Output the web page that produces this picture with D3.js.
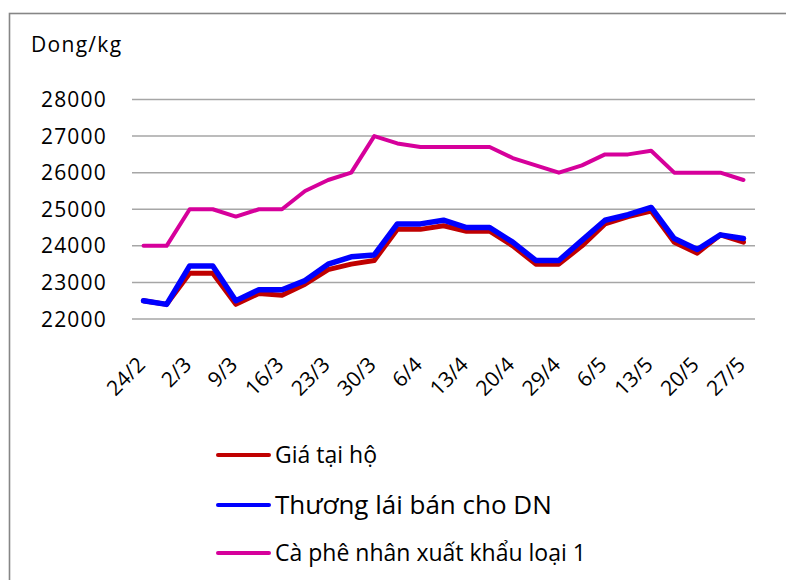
<!DOCTYPE html>
<html>
<head>
<meta charset="utf-8">
<script src="https://cdn.jsdelivr.net/npm/d3@7/dist/d3.min.js"></script>
<style>
  html, body { margin: 0; padding: 0; background: #fff; }
  svg { display: block; }
  text { font-family: "Open Sans", "Noto Sans", sans-serif; fill: #000; }
</style>
</head>
<body>
<svg id="chart" width="786" height="580"></svg>
<script>
const categories = ["24/2","28/2","2/3","6/3","9/3","13/3","16/3","20/3","23/3","27/3","30/3","3/4","6/4","10/4","13/4","17/4","20/4","24/4","29/4","3/5","6/5","10/5","13/5","17/5","20/5","24/5","27/5"];
const tickLabels = ["24/2","2/3","9/3","16/3","23/3","30/3","6/4","13/4","20/4","29/4","6/5","13/5","20/5","27/5"];
const giaTaiHo = [22500,22400,23250,23250,22400,22700,22650,22950,23350,23500,23600,24450,24450,24550,24400,24400,24000,23500,23500,24000,24600,24800,24950,24100,23800,24300,24100];
const thuongLai = [22500,22400,23450,23450,22500,22800,22800,23050,23500,23700,23750,24600,24600,24700,24500,24500,24100,23600,23600,24150,24700,24850,25050,24200,23900,24300,24200];
const xuatKhau = [24000,24000,25000,25000,24800,25000,25000,25500,25800,26000,27000,26800,26700,26700,26700,26700,26400,26200,26000,26200,26500,26500,26600,26000,26000,26000,25800];
const yTicks = [22000,23000,24000,25000,26000,27000,28000];
const seriesNames = ["Giá tại hộ","Thương lái bán cho DN","Cà phê nhân xuất khẩu loại 1"];
const seriesColors = ["#c00000","#0000ff","#d6009b"];

const svg = d3.select("#chart");

// outer frame
svg.append("rect").attr("x", 9.5).attr("y", 13.5).attr("width", 900).attr("height", 700)
  .attr("fill", "none").attr("stroke", "#868686").attr("stroke-width", 1.6);

const x = d3.scaleBand().domain(categories).range([132, 755]).padding(0);
const y = d3.scaleLinear().domain([22000, 28000]).range([319, 99.5]);
const cx = c => x(c) + x.bandwidth() / 2;

// gridlines
svg.append("g").selectAll("line").data(yTicks).join("line")
  .attr("x1", 132).attr("x2", 755)
  .attr("y1", d => y(d)).attr("y2", d => y(d))
  .attr("stroke", "#a6a6a6").attr("stroke-width", 1.5);

// y labels
svg.append("g").selectAll("text").data(yTicks).join("text")
  .attr("x", 107).attr("y", d => y(d)).attr("dy", "0.36em")
  .attr("text-anchor", "end").style("font-size", "21px").style("letter-spacing", "1.2px")
  .text(d => d);

svg.append("text").attr("x", 31).attr("y", 52).style("font-size", "21px").style("letter-spacing", "1.3px")
  .text("Dong/kg");

// x labels
svg.append("g").selectAll("text").data(tickLabels).join("text")
  .attr("text-anchor", "end")
  .attr("transform", d => `translate(${cx(d) + 3},${366}) rotate(-45)`)
  .style("font-size", "21px")
  .text(d => d);

// lines
const line = d3.line().x((d, i) => cx(categories[i])).y(d => y(d));
const data = [giaTaiHo, thuongLai, xuatKhau];
const widths = [5, 5.5, 4];
data.forEach((s, k) => {
  svg.append("path").datum(s).attr("d", line)
    .attr("fill", "none").attr("stroke", seriesColors[k])
    .attr("stroke-width", widths[k]).attr("stroke-linejoin", "round").attr("stroke-linecap", "round");
});

// legend
const legY = [455, 505, 553];
const legSizes = [23, 26, 23];
seriesNames.forEach((n, k) => {
  svg.append("line").attr("x1", 218).attr("x2", 269).attr("y1", legY[k]).attr("y2", legY[k])
    .attr("stroke", seriesColors[k]).attr("stroke-width", 4).attr("stroke-linecap", "round");
  svg.append("text").attr("x", 275).attr("y", legY[k]).attr("dy", "0.36em")
    .style("font-size", legSizes[k] + "px").text(n);
});
</script>
</body>
</html>
